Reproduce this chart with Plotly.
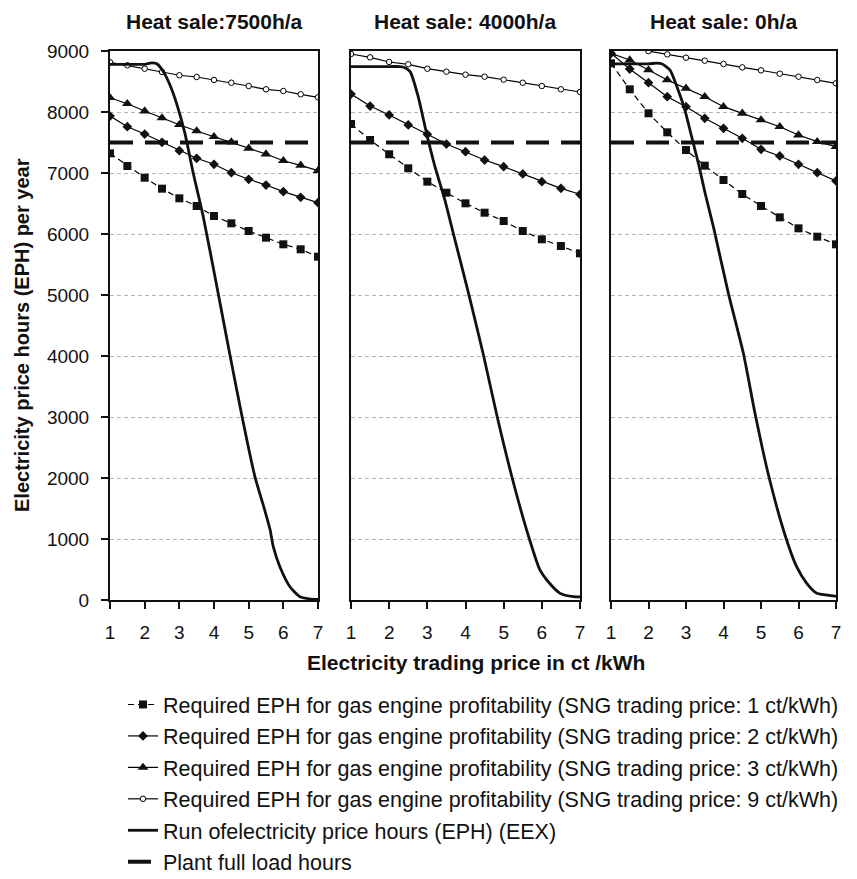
import plotly.graph_objects as go

# ---------------- data ----------------
x_price = [1.0, 1.5, 2.0, 2.5, 3.0, 3.5, 4.0, 4.5, 5.0, 5.5, 6.0, 6.5, 7.0]

panel_titles = ["Heat sale:7500h/a", "Heat sale: 4000h/a", "Heat sale: 0h/a"]

# Required EPH for gas engine profitability, per SNG trading price
p1_sng1 = [7322, 7115, 6923, 6743, 6585, 6459, 6295, 6175, 6049, 5940, 5831, 5749, 5628]
p1_sng2 = [7934, 7759, 7639, 7503, 7366, 7241, 7143, 7005, 6897, 6803, 6694, 6602, 6513]
p1_sng3 = [8234, 8136, 8016, 7902, 7792, 7689, 7595, 7508, 7405, 7311, 7201, 7126, 7038]
p1_sng9 = [8815, 8766, 8710, 8656, 8602, 8574, 8525, 8480, 8426, 8372, 8344, 8290, 8241]

p2_sng1 = [7803, 7541, 7307, 7077, 6858, 6677, 6503, 6349, 6213, 6049, 5913, 5803, 5683]
p2_sng2 = [8295, 8098, 7951, 7787, 7634, 7475, 7350, 7213, 7104, 6984, 6858, 6749, 6651]
p2_sng3 = [None] * 13
p2_sng9 = [8951, 8896, 8820, 8782, 8710, 8661, 8612, 8579, 8530, 8480, 8426, 8372, 8328]

p3_sng1 = [8798, 8372, 7979, 7667, 7377, 7120, 6885, 6656, 6459, 6273, 6093, 5956, 5831]
p3_sng2 = [8962, 8705, 8481, 8251, 8087, 7897, 7733, 7569, 7389, 7279, 7143, 7005, 6869]
p3_sng3 = [8962, 8852, 8689, 8525, 8388, 8251, 8087, 7978, 7869, 7759, 7623, 7514, 7432]
p3_sng9 = [9105, 9050, 8998, 8945, 8890, 8841, 8787, 8732, 8683, 8628, 8579, 8525, 8470]

# Run of electricity price hours (EEX)
p1_eex_x = [1.0, 1.5, 2.0, 2.2, 2.35, 2.54, 2.73, 2.92, 3.16, 3.40, 3.69, 4.12,
            4.46, 4.80, 5.18, 5.45, 5.62, 5.71, 5.90, 6.19, 6.48, 6.75, 7.0]
p1_eex_y = [8780, 8780, 8782, 8805, 8790, 8661, 8443, 8142, 7654, 7000, 6284, 5027,
            4016, 3033, 2022, 1500, 1148, 874, 546, 218, 54, 20, 10]
p2_eex_x = [1.0, 1.5, 2.0, 2.28, 2.4, 2.55, 2.76, 2.98, 3.20, 3.46, 3.68, 4.08,
            4.47, 4.82, 5.21, 5.65, 5.95, 6.13, 6.48, 6.83, 7.0]
p2_eex_y = [8745, 8745, 8745, 8745, 8730, 8661, 8251, 7650, 7104, 6557, 6011, 5027,
            4016, 3033, 2033, 1049, 492, 328, 109, 54, 50]
p3_eex_x = [1.0, 1.5, 2.0, 2.22, 2.35, 2.57, 2.79, 2.97, 3.15, 3.33, 3.51, 3.73,
            4.13, 4.53, 4.84, 5.20, 5.64, 5.95, 6.22, 6.49, 6.93, 7.0]
p3_eex_y = [8790, 8790, 8790, 8800, 8790, 8689, 8361, 8033, 7595, 7159, 6667, 6120,
            5027, 4044, 3060, 2049, 1066, 546, 273, 109, 66, 60]

full_load_x = [1, 7]
full_load_y = [7500, 7500]

x_ticks = [1, 2, 3, 4, 5, 6, 7]
y_ticks = [0, 1000, 2000, 3000, 4000, 5000, 6000, 7000, 8000, 9000]

names = [
    "Required EPH for gas engine profitability (SNG trading price: 1 ct/kWh)",
    "Required EPH for gas engine profitability (SNG trading price: 2 ct/kWh)",
    "Required EPH for gas engine profitability (SNG trading price: 3 ct/kWh)",
    "Required EPH for gas engine profitability (SNG trading price: 9 ct/kWh)",
    "Run ofelectricity price hours (EPH) (EEX)",
    "Plant full load hours",
]

panels = [
    (p1_sng1, p1_sng2, p1_sng3, p1_sng9, p1_eex_x, p1_eex_y),
    (p2_sng1, p2_sng2, p2_sng3, p2_sng9, p2_eex_x, p2_eex_y),
    (p3_sng1, p3_sng2, p3_sng3, p3_sng9, p3_eex_x, p3_eex_y),
]

# ---------------- figure ----------------
W, H = 857, 879
FONT = "Liberation Sans, Arial, Helvetica, sans-serif"
fig = go.Figure()

for i, (s1, s2, s3, s9, ex, ey) in enumerate(panels):
    xa = "x" if i == 0 else f"x{i+1}"
    ya = "y" if i == 0 else f"y{i+1}"
    show = i == 0
    common = dict(xaxis=xa, yaxis=ya, showlegend=show)
    fig.add_trace(go.Scatter(x=x_price, y=s1, mode="lines+markers", name=names[0],
                             legendgroup="g1",
                             line=dict(color="black", width=1.2, dash="6px,4px"),
                             marker=dict(symbol="square", size=8, color="#111"), **common))
    fig.add_trace(go.Scatter(x=x_price, y=s2, mode="lines+markers", name=names[1],
                             legendgroup="g2",
                             line=dict(color="black", width=1.2),
                             marker=dict(symbol="diamond", size=7.5, color="#111"), **common))
    fig.add_trace(go.Scatter(x=x_price, y=s3, mode="lines+markers", name=names[2],
                             legendgroup="g3",
                             line=dict(color="black", width=1.2),
                             marker=dict(symbol="triangle-up", size=9.5, color="#111"), **common))
    fig.add_trace(go.Scatter(x=x_price, y=s9, mode="lines+markers", name=names[3],
                             legendgroup="g4",
                             line=dict(color="black", width=1.2),
                             marker=dict(symbol="circle", size=5.5, color="white",
                                         line=dict(color="black", width=1)), **common))
    fig.add_trace(go.Scatter(x=ex, y=ey, mode="lines", name=names[4],
                             legendgroup="g5",
                             line=dict(color="#111", width=2.8, shape="spline", smoothing=0.6),
                             **common))
    fig.add_trace(go.Scatter(x=full_load_x, y=full_load_y, mode="lines", name=names[5],
                             legendgroup="g6",
                             line=dict(color="#111", width=4, dash="23px,12px"), **common))

x_domains = [(110 / W, 318 / W), (351 / W, 580 / W), (611 / W, 836 / W)]
y_domain = (1 - 600 / H, 1 - 51 / H)

layout = dict(
    width=W, height=H,
    margin=dict(l=0, r=0, t=0, b=0, autoexpand=False),
    paper_bgcolor="white", plot_bgcolor="white",
    font=dict(family=FONT, color="black", size=19),
    legend=dict(x=123 / W, y=1 - 684 / H, xanchor="left", yanchor="top",
                font=dict(family=FONT, size=21.5, color="#111"),
                tracegroupgap=0.5, bgcolor="rgba(0,0,0,0)", itemwidth=30),
)

for i, (d0, d1) in enumerate(x_domains):
    key = "" if i == 0 else str(i + 1)
    layout["xaxis" + key] = dict(
        domain=[d0, d1], range=[1, 7], anchor="y" + key,
        tickmode="array", tickvals=x_ticks, ticks="outside", ticklen=7,
        tickwidth=1.5, tickcolor="#111", showgrid=False, zeroline=False,
        showline=True, linecolor="#111", linewidth=2, mirror=True, automargin=False,
        tickfont=dict(family=FONT, size=19, color="#111"), ticklabelstandoff=7,
    )
    layout["yaxis" + key] = dict(
        domain=list(y_domain), range=[0, 9000], anchor="x" + key,
        tickmode="array", tickvals=y_ticks,
        ticks="outside" if i == 0 else "", ticklen=7, tickwidth=1.5, tickcolor="#111",
        showticklabels=(i == 0), automargin=False,
        showgrid=True, gridcolor="#b5b5b5", gridwidth=1, griddash="4px,3px",
        zeroline=False, showline=True, linecolor="#111", linewidth=2, mirror=True,
        tickfont=dict(family=FONT, size=19, color="#111"), ticklabelstandoff=8,
    )

annotations = []
for i, (d0, d1) in enumerate(x_domains):
    annotations.append(dict(x=(d0 + d1) / 2, y=1 - 21 / H, xref="paper", yref="paper",
                            text="<b>" + panel_titles[i] + "</b>", showarrow=False,
                            xanchor="center", yanchor="middle",
                            font=dict(family=FONT, size=21, color="#111")))
annotations.append(dict(x=476 / W, y=1 - 662 / H, xref="paper", yref="paper",
                        text="<b>Electricity trading price in ct /kWh</b>", showarrow=False,
                        xanchor="center", yanchor="middle",
                        font=dict(family=FONT, size=21, color="#111")))
annotations.append(dict(x=22 / W, y=1 - 335 / H, xref="paper", yref="paper",
                        text="<b>Electricity price hours (EPH) per year</b>", showarrow=False,
                        textangle=-90, xanchor="center", yanchor="middle",
                        font=dict(family=FONT, size=20, color="#111")))
layout["annotations"] = annotations

fig.update_layout(**layout)
fig.write_html("out.html")
